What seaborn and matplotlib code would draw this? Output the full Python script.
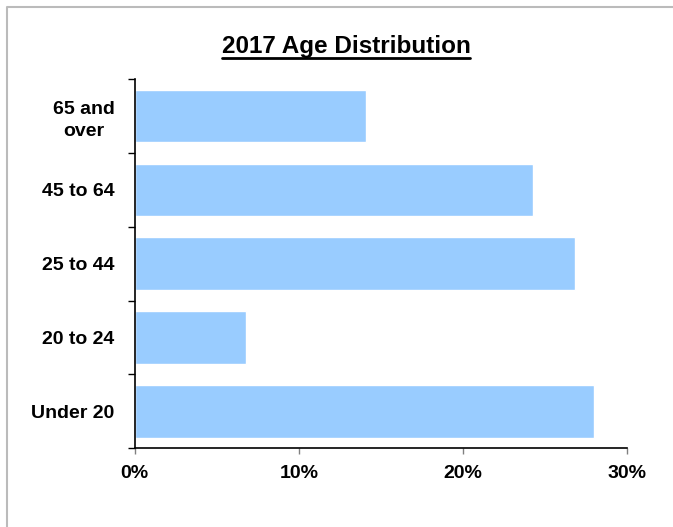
import numpy as np
import pandas as pd
import matplotlib
matplotlib.use("Agg")
import matplotlib.pyplot as plt
import matplotlib.ticker as mticker
from matplotlib.lines import Line2D
import seaborn as sns

# data
age_groups = ["65 and\nover", "45 to 64", "25 to 44", "20 to 24", "Under 20"]
shares = [0.1407, 0.2427, 0.2679, 0.0677, 0.2799]
x_ticks = [0.0, 0.1, 0.2, 0.3]

df = pd.DataFrame({"group": age_groups, "share": shares})

sns.set_theme(style="white")
plt.rcParams["font.family"] = ["Liberation Sans", "DejaVu Sans"]

fig = plt.figure(figsize=(6.73, 5.27), dpi=100)
ax = fig.add_axes([0.1999, 0.1493, 0.7321, 0.7008])

sns.barplot(data=df, x="share", y="group", orient="h", color="#99CCFF",
            saturation=1, width=0.71, ax=ax)

ax.set_xlim(0, 0.30)
ax.set_ylim(len(age_groups) - 0.5, -0.5)
ax.set_xticks(x_ticks)
ax.xaxis.set_major_formatter(mticker.PercentFormatter(1.0, decimals=0))
ax.set_xlabel("")
ax.set_ylabel("")

sns.despine(ax=ax, top=True, right=True)
for side in ["left", "bottom"]:
    ax.spines[side].set_color("black")
    ax.spines[side].set_linewidth(1.2)

# x ticks: short grey marks below the axis
ax.tick_params(axis="x", which="major", bottom=True, length=4, width=1,
               color="#808080", pad=8, labelsize=14, labelcolor="black")
for lbl in ax.get_xticklabels():
    lbl.set_fontweight("bold")

# y: labels at category centres, tick marks between categories
ax.tick_params(axis="y", which="major", left=False, length=0, pad=14.5,
               labelsize=14, labelcolor="black")
ax.set_yticks(np.arange(len(age_groups) + 1) - 0.5, minor=True)
ax.tick_params(axis="y", which="minor", left=True, length=5, width=1,
               color="black")
for lbl in ax.get_yticklabels():
    lbl.set_fontweight("bold")
    lbl.set_multialignment("center")
    lbl.set_linespacing(1.4)

# title with underline
title = fig.text(346 / 673, 1 - 53.3 / 527, "2017 Age Distribution",
                 ha="center", va="baseline", fontsize=17.5, fontweight="bold",
                 color="black")
fig.canvas.draw()
bb = title.get_window_extent()
uy = 1 - 57.5 / 527
fig.add_artist(Line2D([bb.x0 / 673, bb.x1 / 673], [uy, uy],
                      transform=fig.transFigure, color="black", lw=2))

# light grey frame (top and left edges visible)
fig.add_artist(Line2D([6.5 / 673, 6.5 / 673, 1.0], [0.0, 1 - 7 / 527, 1 - 7 / 527],
                      transform=fig.transFigure, color="#BBBBBB", lw=1.5))

fig.savefig("out.png", dpi=100)
